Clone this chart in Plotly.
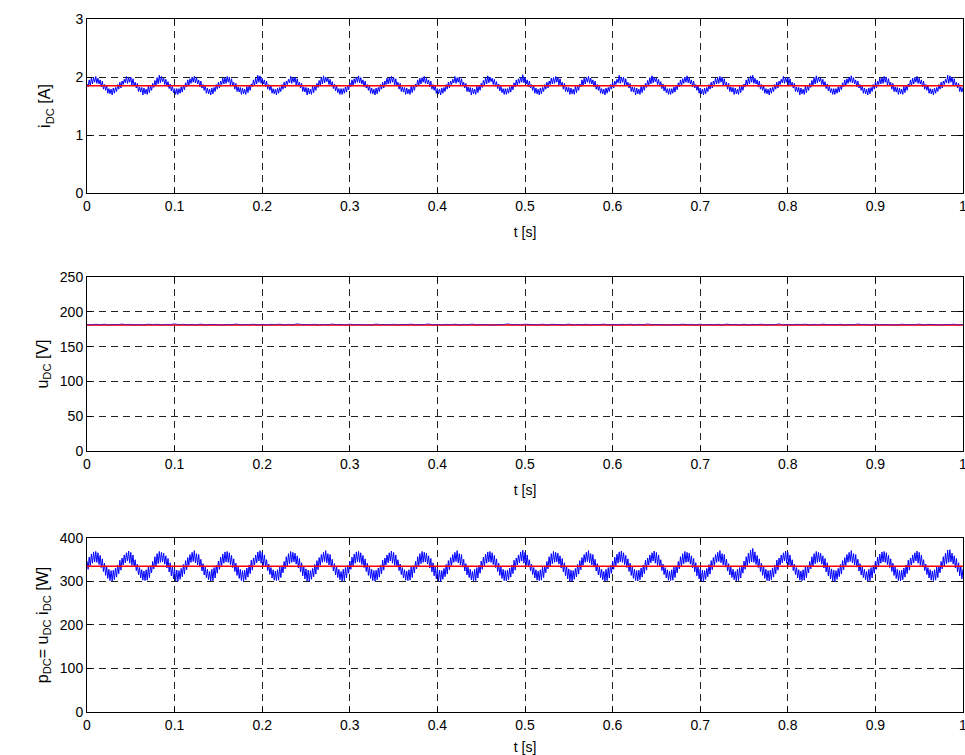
import plotly.graph_objects as go
from plotly.subplots import make_subplots

# ---------------- data ----------------
T_STEP_I = 0.00125  # sample step of i_DC and p_DC traces [s]
T_STEP_U = 0.005    # sample step of u_DC trace [s]

i_dc = [
    1.88, 1.83, 1.95, 1.85, 1.98, 1.88, 1.99, 1.91, 2.01, 1.89, 1.98, 1.88, 1.95, 1.83, 1.93, 1.79, 1.87, 1.77, 1.85, 1.72, 1.80, 1.71, 1.79, 1.69, 1.81, 1.72, 1.82, 1.75, 1.87, 1.79,
    1.91, 1.81, 1.93, 1.87, 1.96, 1.90, 2.01, 1.89, 1.99, 1.91, 2.00, 1.86, 1.97, 1.85, 1.91, 1.81, 1.89, 1.75, 1.83, 1.74, 1.82, 1.69, 1.81, 1.71, 1.79, 1.70, 1.84, 1.73, 1.85, 1.77,
    1.89, 1.82, 1.94, 1.86, 1.99, 1.88, 2.03, 1.90, 2.01, 1.92, 1.98, 1.87, 1.96, 1.84, 1.92, 1.80, 1.88, 1.76, 1.84, 1.73, 1.80, 1.70, 1.80, 1.70, 1.80, 1.72, 1.83, 1.74, 1.86, 1.78,
    1.90, 1.83, 1.95, 1.85, 1.97, 1.89, 2.00, 1.91, 2.01, 1.90, 1.99, 1.88, 1.95, 1.83, 1.93, 1.81, 1.87, 1.77, 1.85, 1.72, 1.81, 1.71, 1.79, 1.69, 1.81, 1.71, 1.82, 1.75, 1.87, 1.79,
    1.91, 1.81, 1.93, 1.87, 1.98, 1.88, 1.99, 1.89, 2.01, 1.91, 2.00, 1.86, 1.97, 1.85, 1.91, 1.79, 1.89, 1.75, 1.83, 1.74, 1.82, 1.70, 1.81, 1.71, 1.79, 1.70, 1.84, 1.73, 1.85, 1.77,
    1.88, 1.83, 1.95, 1.85, 1.98, 1.88, 2.03, 1.91, 2.02, 1.89, 1.98, 1.88, 1.95, 1.83, 1.93, 1.79, 1.87, 1.77, 1.85, 1.72, 1.80, 1.71, 1.79, 1.69, 1.81, 1.72, 1.82, 1.75, 1.87, 1.79,
    1.91, 1.81, 1.93, 1.87, 1.96, 1.90, 2.01, 1.89, 1.99, 1.91, 2.00, 1.86, 1.97, 1.85, 1.91, 1.81, 1.89, 1.75, 1.83, 1.74, 1.82, 1.69, 1.81, 1.71, 1.79, 1.70, 1.84, 1.73, 1.85, 1.77,
    1.89, 1.82, 1.94, 1.86, 1.99, 1.88, 2.02, 1.90, 2.00, 1.92, 1.98, 1.87, 1.96, 1.84, 1.92, 1.80, 1.88, 1.76, 1.84, 1.73, 1.80, 1.70, 1.80, 1.70, 1.80, 1.72, 1.83, 1.74, 1.86, 1.78,
    1.90, 1.83, 1.95, 1.85, 1.97, 1.89, 2.00, 1.91, 2.02, 1.90, 1.99, 1.88, 1.95, 1.83, 1.93, 1.81, 1.87, 1.77, 1.85, 1.72, 1.81, 1.71, 1.79, 1.69, 1.81, 1.71, 1.82, 1.75, 1.87, 1.79,
    1.91, 1.81, 1.93, 1.87, 1.98, 1.88, 1.99, 1.89, 2.01, 1.91, 2.00, 1.86, 1.97, 1.85, 1.91, 1.79, 1.89, 1.75, 1.83, 1.74, 1.82, 1.70, 1.81, 1.71, 1.79, 1.70, 1.84, 1.73, 1.85, 1.77,
    1.88, 1.83, 1.95, 1.85, 1.98, 1.88, 1.99, 1.91, 2.01, 1.89, 1.98, 1.88, 1.95, 1.83, 1.93, 1.79, 1.87, 1.77, 1.85, 1.72, 1.80, 1.71, 1.79, 1.69, 1.81, 1.72, 1.82, 1.75, 1.87, 1.79,
    1.91, 1.81, 1.93, 1.87, 1.96, 1.90, 2.01, 1.89, 1.99, 1.91, 2.00, 1.86, 1.97, 1.85, 1.91, 1.81, 1.89, 1.75, 1.83, 1.74, 1.82, 1.69, 1.81, 1.71, 1.79, 1.70, 1.84, 1.73, 1.85, 1.77,
    1.89, 1.82, 1.94, 1.86, 1.99, 1.88, 2.02, 1.90, 2.00, 1.92, 1.98, 1.87, 1.96, 1.84, 1.92, 1.80, 1.88, 1.76, 1.84, 1.73, 1.80, 1.70, 1.80, 1.70, 1.80, 1.72, 1.83, 1.74, 1.86, 1.78,
    1.90, 1.83, 1.95, 1.85, 1.97, 1.89, 2.00, 1.91, 2.04, 1.90, 1.99, 1.88, 1.95, 1.83, 1.93, 1.81, 1.87, 1.77, 1.85, 1.72, 1.81, 1.71, 1.79, 1.69, 1.81, 1.71, 1.82, 1.75, 1.87, 1.79,
    1.91, 1.81, 1.93, 1.87, 1.98, 1.88, 1.99, 1.89, 2.01, 1.91, 2.00, 1.86, 1.97, 1.85, 1.91, 1.79, 1.89, 1.75, 1.83, 1.74, 1.82, 1.70, 1.81, 1.71, 1.79, 1.70, 1.84, 1.73, 1.85, 1.77,
    1.88, 1.83, 1.95, 1.85, 1.98, 1.88, 1.99, 1.91, 2.01, 1.89, 1.98, 1.88, 1.95, 1.83, 1.93, 1.79, 1.87, 1.77, 1.85, 1.72, 1.80, 1.71, 1.79, 1.69, 1.81, 1.72, 1.82, 1.75, 1.87, 1.79,
    1.91, 1.81, 1.93, 1.87, 1.96, 1.90, 2.03, 1.89, 2.00, 1.91, 2.00, 1.86, 1.97, 1.85, 1.91, 1.81, 1.89, 1.75, 1.83, 1.74, 1.82, 1.69, 1.81, 1.71, 1.79, 1.70, 1.84, 1.73, 1.85, 1.77,
    1.89, 1.82, 1.94, 1.86, 1.99, 1.88, 2.02, 1.90, 2.00, 1.92, 1.98, 1.87, 1.96, 1.84, 1.92, 1.80, 1.88, 1.76, 1.84, 1.73, 1.80, 1.70, 1.80, 1.70, 1.80, 1.72, 1.83, 1.74, 1.86, 1.78,
    1.90, 1.83, 1.95, 1.85, 1.97, 1.89, 2.00, 1.91, 2.02, 1.90, 1.99, 1.88, 1.95, 1.83, 1.93, 1.81, 1.87, 1.77, 1.85, 1.72, 1.81, 1.71, 1.79, 1.69, 1.81, 1.71, 1.82, 1.75, 1.87, 1.79,
    1.91, 1.81, 1.93, 1.87, 1.98, 1.88, 1.99, 1.89, 2.01, 1.91, 2.00, 1.86, 1.97, 1.85, 1.91, 1.79, 1.89, 1.75, 1.83, 1.74, 1.82, 1.70, 1.81, 1.71, 1.79, 1.70, 1.84, 1.73, 1.85, 1.77,
    1.88, 1.83, 1.95, 1.85, 1.98, 1.88, 2.02, 1.91, 2.03, 1.89, 1.98, 1.88, 1.95, 1.83, 1.93, 1.79, 1.87, 1.77, 1.85, 1.72, 1.80, 1.71, 1.79, 1.69, 1.81, 1.72, 1.82, 1.75, 1.87, 1.79,
    1.91, 1.81, 1.93, 1.87, 1.96, 1.90, 2.01, 1.89, 1.99, 1.91, 2.00, 1.86, 1.97, 1.85, 1.91, 1.81, 1.89, 1.75, 1.83, 1.74, 1.82, 1.69, 1.81, 1.71, 1.79, 1.70, 1.84, 1.73, 1.85, 1.77,
    1.89, 1.82, 1.94, 1.86, 1.99, 1.88, 2.02, 1.90, 2.00, 1.92, 1.98, 1.87, 1.96, 1.84, 1.92, 1.80, 1.88, 1.76, 1.84, 1.73, 1.80, 1.70, 1.80, 1.70, 1.80, 1.72, 1.83, 1.74, 1.86, 1.78,
    1.90, 1.83, 1.95, 1.85, 1.97, 1.89, 2.00, 1.91, 2.02, 1.90, 1.99, 1.88, 1.95, 1.83, 1.93, 1.81, 1.87, 1.77, 1.85, 1.72, 1.81, 1.71, 1.79, 1.69, 1.81, 1.71, 1.82, 1.75, 1.87, 1.79,
    1.91, 1.81, 1.93, 1.87, 1.98, 1.88, 1.99, 1.89, 2.01, 1.91, 2.00, 1.86, 1.97, 1.85, 1.91, 1.79, 1.89, 1.75, 1.83, 1.74, 1.82, 1.70, 1.81, 1.71, 1.79, 1.70, 1.84, 1.73, 1.85, 1.77,
    1.88, 1.83, 1.95, 1.85, 1.98, 1.88, 1.99, 1.91, 2.01, 1.89, 1.98, 1.88, 1.95, 1.83, 1.93, 1.79, 1.87, 1.77, 1.85, 1.72, 1.80, 1.71, 1.79, 1.69, 1.81, 1.72, 1.82, 1.75, 1.87, 1.79,
    1.91, 1.81, 1.93, 1.87, 1.96, 1.90, 2.03, 1.89, 2.02, 1.91, 2.00, 1.86, 1.97, 1.85, 1.91, 1.81, 1.89, 1.75, 1.83, 1.74, 1.82,
]

u_dc = [
    181.8, 181.2, 182.1, 181.4, 182.3, 181.1, 181.9, 181.5, 182.6, 181.3,
    182.0, 181.2, 181.8, 181.0, 182.4, 181.6, 182.2, 181.1, 181.9, 181.4,
    183.0, 181.5, 182.1, 181.2, 181.8, 181.3, 182.5, 181.0, 181.9, 181.6,
    182.2, 181.1, 182.0, 181.4, 182.7, 181.2, 181.8, 181.5, 182.3, 181.0,
    181.9, 181.3, 182.1, 181.6, 182.4, 181.1, 182.0, 181.2, 183.2, 181.5,
    181.8, 181.4, 182.2, 181.0, 181.9, 181.3, 182.5, 181.6, 182.0, 181.1,
    182.3, 181.2, 181.8, 181.5, 182.1, 181.0, 182.6, 181.4, 181.9, 181.3,
    182.2, 181.1, 182.0, 181.6, 182.4, 181.2, 181.8, 181.5, 182.9, 181.0,
    181.9, 181.3, 182.1, 181.4, 182.3, 181.1, 182.0, 181.6, 182.5, 181.2,
    181.8, 181.5, 182.2, 181.0, 181.9, 181.3, 183.1, 181.4, 182.0, 181.1,
    182.3, 181.6, 181.8, 181.2, 182.4, 181.0, 182.1, 181.5, 181.9, 181.3,
    182.6, 181.1, 182.0, 181.4, 182.2, 181.2, 181.8, 181.6, 182.5, 181.0,
    181.9, 181.3, 182.1, 181.5, 182.3, 181.1, 182.0, 181.2, 182.8, 181.4,
    181.8, 181.6, 182.2, 181.0, 181.9, 181.3, 182.4, 181.5, 182.0, 181.1,
    182.3, 181.2, 181.8, 181.4, 182.1, 181.0, 182.6, 181.6, 181.9, 181.3,
    182.2, 181.1, 182.0, 181.5, 182.4, 181.2, 181.8, 181.4, 183.0, 181.0,
    181.9, 181.3, 182.1, 181.6, 182.3, 181.1, 182.0, 181.2, 182.5, 181.5,
    181.8, 181.4, 182.2, 181.0, 181.9, 181.3, 182.7, 181.6, 182.0, 181.1,
    182.3, 181.2, 181.8, 181.5, 182.1, 181.0, 182.4, 181.4, 181.9, 181.3,
    182.6, 181.1, 182.0, 181.6, 182.2, 181.2, 181.8, 181.5, 182.3, 181.0,
    181.9,
]

p_dc = [
    347, 328, 356, 336, 363, 342, 368, 345, 369, 344, 366, 339, 360, 332, 352, 323, 342, 314, 334, 307, 328, 302, 325, 301, 326, 304, 331, 310, 338, 318,
    349, 326, 354, 338, 361, 343, 366, 347, 370, 342, 367, 337, 361, 334, 350, 325, 340, 316, 332, 308, 327, 303, 324, 302, 327, 303, 333, 309, 336, 320,
    346, 329, 357, 335, 364, 341, 369, 344, 367, 345, 365, 340, 359, 331, 353, 322, 343, 313, 335, 306, 329, 301, 326, 300, 325, 305, 330, 311, 339, 317,
    348, 327, 355, 337, 362, 344, 367, 346, 371, 343, 364, 338, 362, 333, 351, 324, 341, 315, 333, 309, 328, 304, 323, 301, 328, 302, 332, 308, 337, 319,
    347, 328, 356, 336, 363, 342, 368, 345, 369, 344, 366, 339, 360, 332, 352, 323, 342, 314, 334, 307, 328, 302, 325, 301, 326, 304, 331, 310, 338, 318,
    349, 326, 354, 338, 361, 343, 368, 347, 371, 342, 367, 337, 361, 334, 350, 325, 340, 316, 332, 308, 327, 303, 324, 302, 327, 303, 333, 309, 336, 320,
    346, 329, 357, 335, 364, 341, 369, 344, 367, 345, 365, 340, 359, 331, 353, 322, 343, 313, 335, 306, 329, 301, 326, 300, 325, 305, 330, 311, 339, 317,
    348, 327, 355, 337, 362, 344, 367, 346, 371, 343, 364, 338, 362, 333, 351, 324, 341, 315, 333, 309, 328, 304, 323, 301, 328, 302, 332, 308, 337, 319,
    347, 328, 356, 336, 363, 342, 368, 345, 369, 344, 366, 339, 360, 332, 352, 323, 342, 314, 334, 307, 328, 302, 325, 301, 326, 304, 331, 310, 338, 318,
    349, 326, 354, 338, 361, 343, 366, 347, 370, 342, 367, 337, 361, 334, 350, 325, 340, 316, 332, 308, 327, 303, 324, 302, 327, 303, 333, 309, 336, 320,
    346, 329, 357, 335, 364, 341, 369, 344, 367, 345, 365, 340, 359, 331, 353, 322, 343, 313, 335, 306, 329, 301, 326, 300, 325, 305, 330, 311, 339, 317,
    348, 327, 355, 337, 362, 344, 367, 346, 371, 343, 364, 338, 362, 333, 351, 324, 341, 315, 333, 309, 328, 304, 323, 301, 328, 302, 332, 308, 337, 319,
    347, 328, 356, 336, 363, 342, 368, 345, 369, 344, 366, 339, 360, 332, 352, 323, 342, 314, 334, 307, 328, 302, 325, 301, 326, 304, 331, 310, 338, 318,
    349, 326, 354, 338, 361, 343, 368, 347, 372, 342, 367, 337, 361, 334, 350, 325, 340, 316, 332, 308, 327, 303, 324, 302, 327, 303, 333, 309, 336, 320,
    346, 329, 357, 335, 364, 341, 369, 344, 367, 345, 365, 340, 359, 331, 353, 322, 343, 313, 335, 306, 329, 301, 326, 300, 325, 305, 330, 311, 339, 317,
    348, 327, 355, 337, 362, 344, 367, 346, 371, 343, 364, 338, 362, 333, 351, 324, 341, 315, 333, 309, 328, 304, 323, 301, 328, 302, 332, 308, 337, 319,
    347, 328, 356, 336, 363, 342, 368, 345, 370, 344, 366, 339, 360, 332, 352, 323, 342, 314, 334, 307, 328, 302, 325, 301, 326, 304, 331, 310, 338, 318,
    349, 326, 354, 338, 361, 343, 366, 347, 370, 342, 367, 337, 361, 334, 350, 325, 340, 316, 332, 308, 327, 303, 324, 302, 327, 303, 333, 309, 336, 320,
    346, 329, 357, 335, 364, 341, 369, 344, 367, 345, 365, 340, 359, 331, 353, 322, 343, 313, 335, 306, 329, 301, 326, 300, 325, 305, 330, 311, 339, 317,
    348, 327, 355, 337, 362, 344, 367, 346, 371, 343, 364, 338, 362, 333, 351, 324, 341, 315, 333, 309, 328, 304, 323, 301, 328, 302, 332, 308, 337, 319,
    347, 328, 357, 336, 365, 342, 372, 345, 376, 344, 368, 339, 360, 332, 352, 323, 342, 314, 334, 307, 328, 302, 325, 301, 326, 304, 331, 310, 338, 318,
    349, 326, 354, 338, 361, 343, 366, 347, 370, 342, 367, 337, 361, 334, 350, 325, 340, 316, 332, 308, 327, 303, 324, 302, 327, 303, 333, 309, 336, 320,
    346, 329, 357, 335, 364, 341, 369, 344, 367, 345, 365, 340, 359, 331, 353, 322, 343, 313, 335, 306, 329, 301, 326, 300, 325, 305, 330, 311, 339, 317,
    348, 327, 355, 337, 362, 344, 367, 346, 371, 343, 364, 338, 362, 333, 351, 324, 341, 315, 333, 309, 328, 304, 323, 301, 328, 302, 332, 308, 337, 319,
    347, 328, 356, 336, 363, 342, 368, 345, 369, 344, 366, 339, 360, 332, 352, 323, 342, 314, 334, 307, 328, 302, 325, 301, 326, 304, 331, 310, 338, 318,
    349, 326, 354, 338, 361, 343, 366, 347, 370, 342, 367, 337, 361, 334, 350, 325, 340, 316, 332, 308, 327, 303, 324, 302, 327, 303, 333, 309, 336, 320,
    346, 329, 357, 335, 365, 341, 372, 344, 373, 345, 365, 340, 359, 331, 353, 322, 343, 313, 335, 306, 329,
]

# mean values (red lines)
avg_t = [0, 1]
i_dc_avg = [1.85, 1.85]
u_dc_avg = [181.0, 181.0]
p_dc_avg = [335, 335]

# axis settings
x_ticks = [0, 0.1, 0.2, 0.3, 0.4, 0.5, 0.6, 0.7, 0.8, 0.9, 1]
y_ranges = [[0, 3], [0, 250], [0, 400]]
y_dticks = [1, 50, 100]
y_titles = ["i<sub>DC</sub> [A]", "u<sub>DC</sub> [V]",
            "p<sub>DC</sub>= u<sub>DC</sub> i<sub>DC</sub> [W]"]
x_title = "t [s]"

# ---------------- figure ----------------
fig = make_subplots(rows=3, cols=1, shared_xaxes=False)

BLUE = "#0000ff"
RED = "#ff0000"

fig.add_trace(go.Scatter(y=i_dc, x0=0, dx=T_STEP_I, mode="lines",
                         line=dict(color=BLUE, width=1), showlegend=False), row=1, col=1)
fig.add_trace(go.Scatter(x=avg_t, y=i_dc_avg, mode="lines",
                         line=dict(color=RED, width=1.5), showlegend=False), row=1, col=1)
fig.add_trace(go.Scatter(x=avg_t, y=u_dc_avg, mode="lines",
                         line=dict(color=RED, width=2), opacity=0.8, showlegend=False), row=2, col=1)
fig.add_trace(go.Scatter(y=u_dc, x0=0, dx=T_STEP_U, mode="lines",
                         line=dict(color=BLUE, width=1), opacity=0.6, showlegend=False), row=2, col=1)
fig.add_trace(go.Scatter(y=p_dc, x0=0, dx=T_STEP_I, mode="lines",
                         line=dict(color=BLUE, width=1), showlegend=False), row=3, col=1)
fig.add_trace(go.Scatter(x=avg_t, y=p_dc_avg, mode="lines",
                         line=dict(color=RED, width=1.5), showlegend=False), row=3, col=1)

FONT = "Arial, 'Liberation Sans', sans-serif"
domains = [[0.7489, 1.0], [0.3766, 0.6277], [0.0, 0.2511]]
y_standoffs = [20, 7, 7]

common_axis = dict(
    showline=True, linecolor="black", linewidth=1, mirror="ticks",
    ticks="inside", ticklen=5, tickcolor="black", tickwidth=1,
    showgrid=True, gridcolor="#222222", gridwidth=1, griddash="7px,5px",
    zeroline=False, tickfont=dict(family=FONT, size=14, color="black"),
    ticklabeloverflow="allow",
)

for r in range(3):
    fig.update_xaxes(
        range=[0, 1], tickmode="array", tickvals=x_ticks,
        ticktext=[("%g" % v) for v in x_ticks],
        title=dict(text=x_title, font=dict(family=FONT, size=14, color="black"), standoff=14),
        row=r + 1, col=1, **common_axis)
    fig.update_yaxes(
        range=y_ranges[r], dtick=y_dticks[r], tick0=0, domain=domains[r],
        title=dict(text=y_titles[r], font=dict(family=FONT, size=16, color="black"),
                   standoff=y_standoffs[r]),
        row=r + 1, col=1, **common_axis)

fig.update_layout(
    width=965, height=755,
    margin=dict(l=87, r=2, t=19, b=43, autoexpand=False),
    paper_bgcolor="white", plot_bgcolor="white",
    font=dict(family=FONT, size=14, color="black"),
    showlegend=False,
)

fig.write_html("out.html", config={"displayModeBar": False},
               post_script="document.body.style.margin='0px';")
